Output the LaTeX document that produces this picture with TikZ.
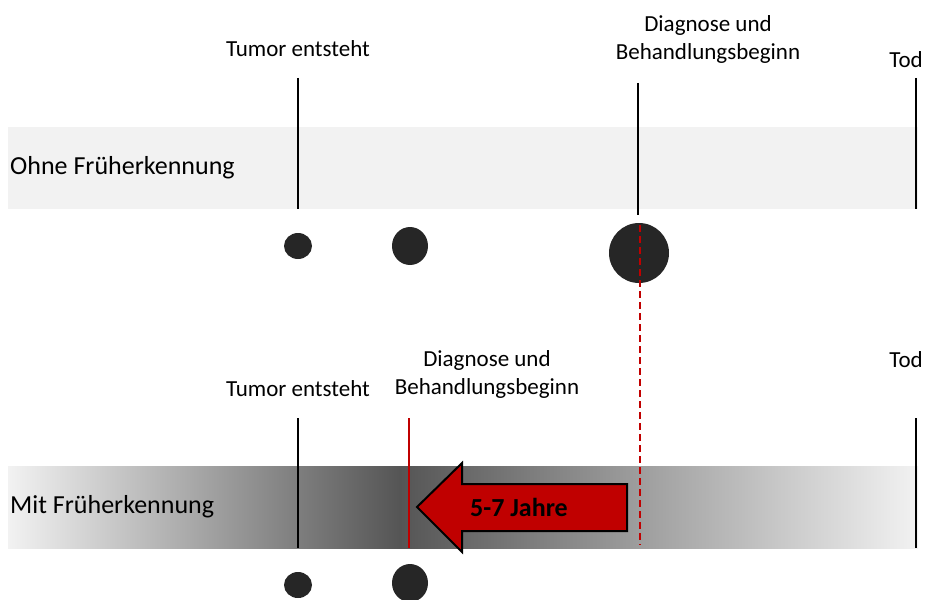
\documentclass[tikz,border=0pt]{standalone}
\usepackage{fontspec}
\setmainfont{Carlito}
\definecolor{bandgray}{HTML}{F2F2F2}
\definecolor{darkgray}{HTML}{555555}
\definecolor{myred}{HTML}{C00000}
\definecolor{dotcol}{HTML}{262626}
\tikzset{
  lbl/.style={font=\fontsize{23}{28}\selectfont, align=center, inner sep=0pt},
  bandlbl/.style={font=\fontsize{26}{30}\selectfont, anchor=west, inner sep=0pt},
  mark line/.style={line width=2pt, draw=black},
  red line/.style={line width=2pt, draw=myred},
  red dash/.style={line width=2pt, draw=myred, dash pattern=on 7pt off 4pt},
  bigarrow/.style={fill=myred, draw=black, line width=2pt, line join=miter}
}
\begin{document}
\begin{tikzpicture}[x=1pt,y=-1pt]
\useasboundingbox (0,0) rectangle (925,599);
% top band
\fill[bandgray] (8,127) rectangle (918,209);
\node[bandlbl] (ohne) at (10,168) {Ohne Früherkennung};
% top labels
\node[lbl] (tumor1) at (298,49) {Tumor entsteht};
\node[lbl] (diag1) at (708,39) {Diagnose und\\Behandlungsbeginn};
\node[lbl] (tod1) at (906,60) {Tod};
% top lines
\coordinate (t1a) at (298,78); \coordinate (t1b) at (298,209);
\coordinate (d1a) at (638,83); \coordinate (d1b) at (638,215);
\coordinate (e1a) at (916,78); \coordinate (e1b) at (916,209);
\draw[mark line] (t1a) -- (t1b);
\draw[mark line] (d1a) -- (d1b);
\draw[mark line] (e1a) -- (e1b);
% top dots
\fill[dotcol] (298,246) ellipse [x radius=14, y radius=13];
\fill[dotcol] (410,246) ellipse [x radius=18, y radius=19];
\fill[dotcol] (639,253) circle [radius=30];
% bottom band gradient
\shade[left color=bandgray, right color=darkgray] (8,466) rectangle (400,548);
\shade[left color=darkgray, right color=bandgray] (399.5,466) rectangle (918,548);
\node[bandlbl] (mit) at (10,507) {Mit Früherkennung};
% red dashed
\coordinate (rd1) at (639.5,225); \coordinate (rd2) at (639.5,545);
\draw[red dash] (rd1) -- (rd2);
% bottom labels
\node[lbl] (tumor2) at (298,389) {Tumor entsteht};
\node[lbl] (diag2) at (487,374) {Diagnose und\\Behandlungsbeginn};
\node[lbl] (tod2) at (906,360) {Tod};
% bottom lines
\coordinate (t2a) at (298,418); \coordinate (t2b) at (298,548);
\coordinate (d2a) at (409,418); \coordinate (d2b) at (409,548);
\coordinate (e2a) at (916,418); \coordinate (e2b) at (916,548);
\draw[mark line] (t2a) -- (t2b);
\draw[red line] (d2a) -- (d2b);
\draw[mark line] (e2a) -- (e2b);
% arrow
\coordinate (tip) at (417,507);
\coordinate (ht) at (462,463);
\coordinate (hb) at (462,552);
\coordinate (st) at (462,484);
\coordinate (sb) at (462,531);
\coordinate (et) at (627,484);
\coordinate (eb) at (627,531);
\draw[bigarrow] (tip) -- (ht) -- (st) -- (et) -- (eb) -- (sb) -- (hb) -- cycle;
\node[font=\fontsize{26}{30}\selectfont\bfseries, inner sep=0pt] (jahre) at (519,507) {5-7 Jahre};
% bottom dots
\fill[dotcol] (298,585) ellipse [x radius=14, y radius=13];
\fill[dotcol] (410,583) ellipse [x radius=18, y radius=19];
\end{tikzpicture}
\end{document}
